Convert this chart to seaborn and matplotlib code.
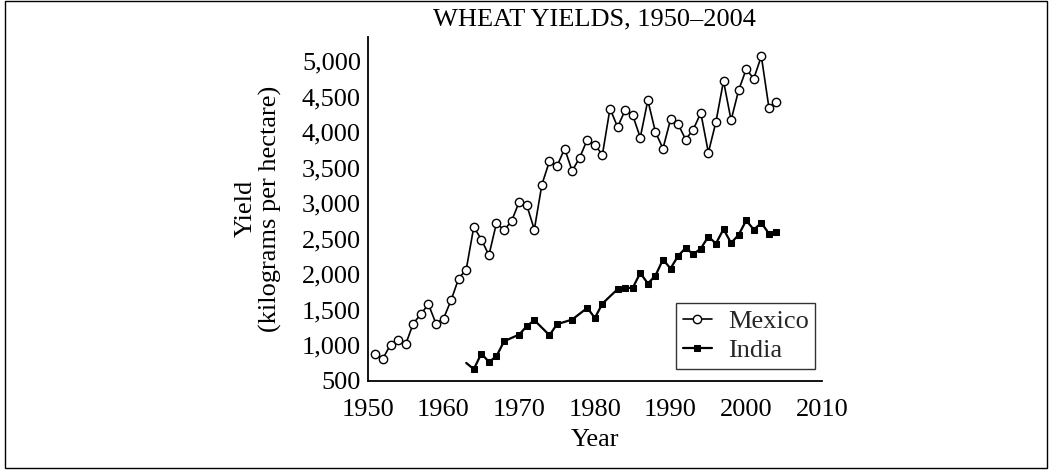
import matplotlib
matplotlib.use("Agg")
import matplotlib.pyplot as plt
import matplotlib.ticker as mticker
from matplotlib.patches import Rectangle
import seaborn as sns
import pandas as pd

# ---- data ----
mexico_years = list(range(1951, 2005))
mexico_yield = [875, 815, 1012, 1072, 1016, 1307, 1438, 1579, 1307, 1377,
                1635, 1940, 2067, 2666, 2489, 2268, 2722, 2620, 2750, 3018,
                2971, 2629, 3262, 3590, 3520, 3768, 3454, 3642, 3895, 3815,
                3684, 4331, 4072, 4307, 4237, 3923, 4448, 4002, 3768, 4177,
                4110, 3895, 4036, 4269, 3712, 4143, 4719, 4167, 4589, 4884,
                4752, 5067, 4345, 4424]

india_years = [1963, 1964, 1965, 1966, 1967, 1968, 1970, 1971, 1972, 1974,
               1975, 1977, 1979, 1980, 1981, 1983, 1984, 1985, 1986, 1987,
               1988, 1989, 1990, 1991, 1992, 1993, 1994, 1995, 1996, 1997,
               1998, 1999, 2000, 2001, 2002, 2003, 2004]
india_yield = [753, 665, 885, 767, 847, 1058, 1152, 1269, 1354, 1143,
               1297, 1363, 1527, 1386, 1588, 1790, 1808, 1808, 2019, 1870,
               1980, 2207, 2081, 2258, 2370, 2280, 2362, 2530, 2432, 2634,
               2440, 2555, 2757, 2629, 2722, 2573, 2596]

x_ticks = [1950, 1960, 1970, 1980, 1990, 2000, 2005, 2010]
x_tick_labels = ["1950", "1960", "1970", "1980", "1990", "2000", "", "2010"]
y_ticks = list(range(500, 5001, 500))

title = "WHEAT YIELDS, 1950\u20132004"
x_label = "Year"
y_label = "Yield\n(kilograms per hectare)"

# ---- styling ----
sns.set_theme(style="white")
plt.rcParams["font.family"] = ["Liberation Serif", "DejaVu Serif"]

fig = plt.figure(figsize=(10.51, 4.72), dpi=100)
ax = fig.add_axes([0.350, 0.193, 0.432, 0.729])

mex_df = pd.DataFrame({"Year": mexico_years, "Yield": mexico_yield})
ind_df = pd.DataFrame({"Year": india_years, "Yield": india_yield})

sns.lineplot(data=mex_df, x="Year", y="Yield", ax=ax, color="black",
             linewidth=1.2, marker="o", markersize=6.0,
             markerfacecolor="white", markeredgecolor="black",
             markeredgewidth=1.0, label="Mexico")
sns.lineplot(data=ind_df, x="Year", y="Yield", ax=ax, color="black",
             linewidth=1.6, marker="s", markersize=4.0,
             markerfacecolor="black", markeredgecolor="black",
             markevery=list(range(1, len(india_years))), label="India")

ax.set_xlim(1950, 2010)
ax.set_ylim(500, 5340)
ax.set_xticks(x_ticks)
ax.set_xticklabels(x_tick_labels)
ax.set_yticks(y_ticks)
ax.yaxis.set_major_formatter(mticker.FuncFormatter(lambda v, p: f"{int(v):,}"))

for s in ["top", "right"]:
    ax.spines[s].set_visible(False)
for s in ["left", "bottom"]:
    ax.spines[s].set_color("black")
    ax.spines[s].set_linewidth(1.3)

ax.tick_params(axis="both", direction="inout", length=8, width=1.0,
               colors="black", labelsize=19)
ax.tick_params(axis="y", pad=1)
ax.tick_params(axis="x", pad=9)

ax.set_xlabel(x_label, fontsize=19, color="black", labelpad=6)
ax.set_ylabel(y_label, fontsize=19, color="black", labelpad=14, linespacing=1.15)
ax.set_title(title, fontsize=19, color="black", pad=8)

leg = ax.legend(loc="lower right", bbox_to_anchor=(0.997, 0.02), fontsize=19,
                frameon=True, fancybox=False, edgecolor="black",
                handlelength=1.1, handletextpad=0.6, borderpad=0.25,
                labelspacing=0.2, borderaxespad=0.2)
leg.get_frame().set_linewidth(1.0)

# outer border of the figure
fig.patches.append(Rectangle((0.005, 0.008), 0.991, 0.99, transform=fig.transFigure,
                             fill=False, edgecolor="black", linewidth=1.0))

fig.savefig("out.png", dpi=100, facecolor="white")
